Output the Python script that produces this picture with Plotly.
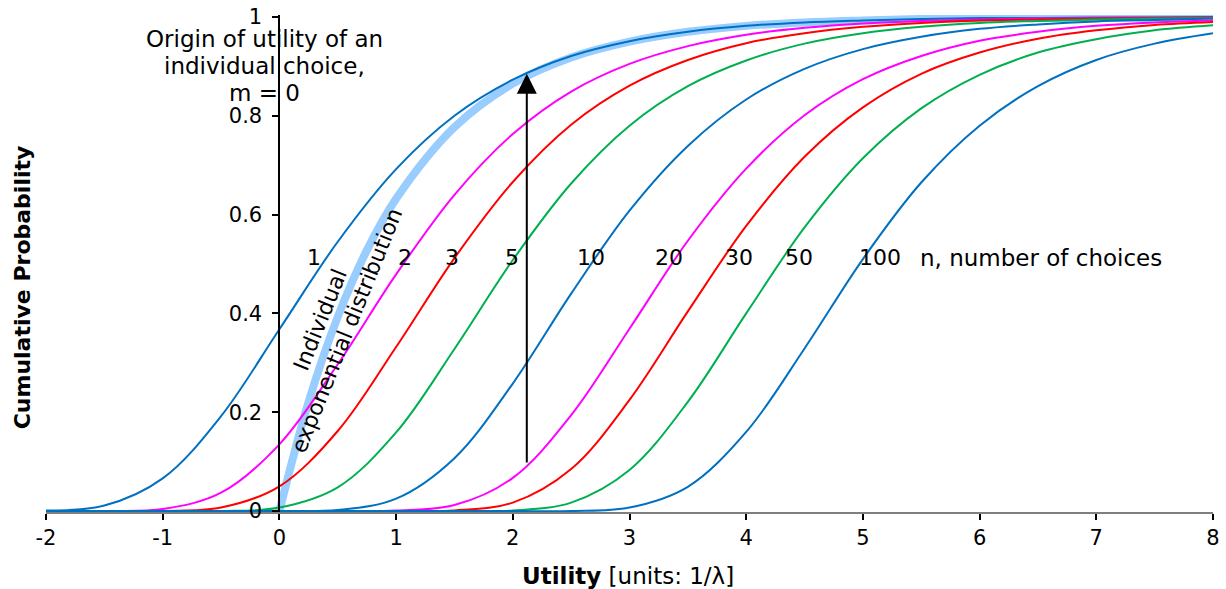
import plotly.graph_objects as go

# Utility grid (units of 1/lambda)
utility = [-2, -1.5, -1, -0.5, 0, 0.5, 1, 1.5, 2, 2.5, 3, 3.5, 4, 4.5, 5,
           5.5, 6, 6.5, 7, 7.5, 8]

# Cumulative probability of the best of n choices
p_n1 = [0.001, 0.011, 0.066, 0.192, 0.368, 0.545, 0.692, 0.800, 0.873, 0.921, 0.951,
        0.970, 0.982, 0.989, 0.993, 0.996, 0.998, 0.998, 0.999, 0.999, 1.000]
p_n2 = [0.000, 0.000, 0.004, 0.037, 0.135, 0.297, 0.479, 0.640, 0.763, 0.849, 0.905,
        0.941, 0.964, 0.978, 0.987, 0.992, 0.995, 0.997, 0.998, 0.999, 0.999]
p_n3 = [0.000, 0.000, 0.000, 0.007, 0.050, 0.162, 0.332, 0.512, 0.666, 0.782, 0.861,
        0.913, 0.947, 0.967, 0.980, 0.988, 0.993, 0.995, 0.997, 0.998, 0.999]
p_n5 = [0.000, 0.000, 0.000, 0.000, 0.007, 0.048, 0.159, 0.328, 0.508, 0.663, 0.780,
        0.860, 0.912, 0.946, 0.967, 0.980, 0.988, 0.992, 0.995, 0.997, 0.998]
p_n10 = [0.000, 0.000, 0.000, 0.000, 0.000, 0.002, 0.025, 0.107, 0.258, 0.440, 0.608,
         0.739, 0.833, 0.895, 0.935, 0.960, 0.976, 0.985, 0.991, 0.994, 0.997]
p_n20 = [0.000, 0.000, 0.000, 0.000, 0.000, 0.000, 0.001, 0.012, 0.067, 0.194, 0.369,
         0.547, 0.693, 0.801, 0.874, 0.921, 0.952, 0.970, 0.982, 0.989, 0.993]
p_n30 = [0.000, 0.000, 0.000, 0.000, 0.000, 0.000, 0.000, 0.001, 0.017, 0.085, 0.225,
         0.404, 0.577, 0.717, 0.817, 0.885, 0.928, 0.956, 0.973, 0.984, 0.990]
p_n50 = [0.000, 0.000, 0.000, 0.000, 0.000, 0.000, 0.000, 0.000, 0.001, 0.017, 0.083,
         0.221, 0.400, 0.574, 0.714, 0.815, 0.883, 0.928, 0.955, 0.973, 0.983]
p_n100 = [0.000, 0.000, 0.000, 0.000, 0.000, 0.000, 0.000, 0.000, 0.000, 0.000, 0.007,
          0.049, 0.160, 0.329, 0.510, 0.665, 0.780, 0.860, 0.913, 0.946, 0.967]

# Individual exponential distribution (starts at the origin m = 0)
exp_utility = [0, 0.25, 0.5, 0.75, 1, 1.5, 2, 2.5, 3, 3.5, 4, 4.5, 5, 5.5, 6, 6.5, 7, 7.5, 8]
p_exp = [0.000, 0.221, 0.393, 0.528, 0.632, 0.777, 0.865, 0.918, 0.950, 0.970, 0.982,
         0.989, 0.993, 0.996, 0.998, 0.998, 0.999, 0.999, 1.000]

x_ticks = [-2, -1, 0, 1, 2, 3, 4, 5, 6, 7, 8]
x_tick_text = ["-2", "-1", "0", "1", "2", "3", "4", "5", "6", "7", "8"]
y_ticks = [0, 0.2, 0.4, 0.6, 0.8, 1]
y_tick_text = ["0", "0.2", "0.4", "0.6", "0.8", "1"]

n_labels = ["1", "2", "3", "5", "10", "20", "30", "50", "100"]
n_label_x = [0.30, 1.08, 1.48, 1.99, 2.67, 3.34, 3.94, 4.45, 5.15]
n_label_y = 0.513

origin_lines = ["Origin of utility of an", "individual choice,", "m = 0"]
origin_line_y = [0.955, 0.901, 0.847]
origin_x = -0.124

arrow_x = 2.12
arrow_from = 0.095
arrow_to = 0.885

BLUE = "#0070C0"
MAGENTA = "#FF00FF"
RED = "#FF0000"
GREEN = "#00B050"
FONT = "DejaVu Sans"
TICK_FS = 21
FS = 22

series = [p_n1, p_n2, p_n3, p_n5, p_n10, p_n20, p_n30, p_n50, p_n100]
colors = [BLUE, MAGENTA, RED, GREEN, BLUE, MAGENTA, RED, GREEN, BLUE]

fig = go.Figure()

fig.add_trace(go.Scatter(
    x=exp_utility, y=p_exp, mode="lines", line=dict(color="#99CCFF", width=8, shape="spline"),
    name="Individual exponential distribution", showlegend=False, hoverinfo="skip"))

for name, vals, col in zip(n_labels, series, colors):
    fig.add_trace(go.Scatter(
        x=utility, y=vals, mode="lines", line=dict(color=col, width=2, shape="spline"),
        name="n = " + name, showlegend=False))

txt = dict(family=FONT, size=FS, color="black")
annotations = []
for lab, lx in zip(n_labels, n_label_x):
    annotations.append(dict(x=lx, y=n_label_y, xref="x", yref="y", text=lab,
                            showarrow=False, font=txt, xanchor="center", yanchor="middle"))
annotations.append(dict(x=6.53, y=n_label_y, xref="x", yref="y", text="n, number of choices",
                        showarrow=False, font=dict(family=FONT, size=23, color="black"),
                        xanchor="center", yanchor="middle"))
for line, ly in zip(origin_lines, origin_line_y):
    annotations.append(dict(x=origin_x, y=ly, xref="x", yref="y", text=line,
                            showarrow=False, font=dict(family=FONT, size=23, color="black"),
                            xanchor="center", yanchor="middle"))
annotations.append(dict(x=0.467, y=0.376, xref="x", yref="y",
                        text="Individual<br>exponential distribution",
                        showarrow=False, align="center", textangle=-68, font=txt,
                        xanchor="center", yanchor="middle"))
annotations.append(dict(x=arrow_x, y=arrow_to, ax=arrow_x, ay=arrow_from,
                        xref="x", yref="y", axref="x", ayref="y", text="",
                        showarrow=True, arrowhead=2, arrowsize=2, arrowwidth=2,
                        arrowcolor="black"))
annotations.append(dict(x=-0.0206, y=0.452, xref="paper", yref="paper",
                        text="<b>Cumulative Probability</b>", textangle=-90,
                        showarrow=False, font=txt, xanchor="center", yanchor="middle"))
annotations.append(dict(x=0.4987, y=-0.129, xref="paper", yref="paper",
                        text="<b>Utility</b> [units: 1/λ]",
                        showarrow=False, font=dict(family=FONT, size=23, color="black"),
                        xanchor="center", yanchor="middle"))

fig.update_layout(
    width=1226, height=589,
    margin=dict(l=46, r=13, t=15, b=77, autoexpand=False),
    plot_bgcolor="white", paper_bgcolor="white",
    font=dict(family=FONT, size=TICK_FS, color="black"),
    showlegend=False,
    annotations=annotations,
    xaxis=dict(range=[-2, 8], tickvals=x_ticks, ticktext=x_tick_text, automargin=False,
               showgrid=False, zeroline=False, showline=True, linecolor="#7f7f7f",
               linewidth=2, ticks="outside", ticklen=6, tickwidth=2, tickcolor="black",
               ticklabelstandoff=0, tickfont=dict(family=FONT, size=TICK_FS, color="black")),
    yaxis=dict(range=[-0.002, 1.004], tickvals=y_ticks, ticktext=y_tick_text,
               anchor="free", position=0.2, automargin=False,
               showgrid=False, zeroline=False, showline=True, linecolor="black",
               linewidth=2, ticks="outside", ticklen=6, tickwidth=2, tickcolor="black",
               ticklabelstandoff=6, tickfont=dict(family=FONT, size=TICK_FS, color="black")),
)

fig.write_html("out.html")
